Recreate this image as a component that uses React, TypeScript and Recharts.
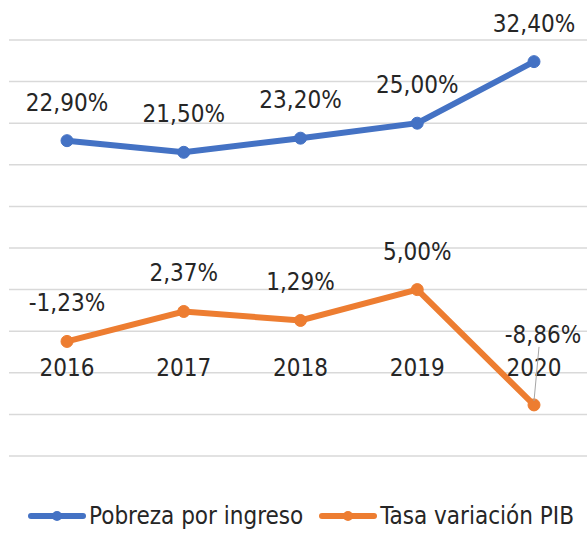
import {
  CartesianGrid,
  LabelList,
  Legend,
  Line,
  LineChart,
  XAxis,
  YAxis,
} from "recharts";

const years = ["2016", "2017", "2018", "2019", "2020"];
const pobreza = [22.9, 21.5, 23.2, 25.0, 32.4];
const pib = [-1.23, 2.37, 1.29, 5.0, -8.86];
const yTicks = [-15, -10, -5, 0, 5, 10, 15, 20, 25, 30, 35];

const BLUE = "#4472C4";
const ORANGE = "#ED7D31";
const TEXT = "#262626";
const FONT = "'DejaVu Sans Condensed', 'DejaVu Sans', sans-serif";

const rows = years.map((year, i) => ({
  year,
  pobreza: pobreza[i],
  pib: pib[i],
}));

const pct = (v: number) => v.toFixed(2).replace(".", ",") + "%";

function YearTick({ x, y, payload }: any) {
  return (
    <text
      x={x}
      y={y - 88}
      textAnchor="middle"
      dominantBaseline="central"
      fontFamily={FONT}
      fontStretch="condensed"
      fontSize={24}
      fill={TEXT}
    >
      {payload.value}
    </text>
  );
}

function PointLabel(props: any) {
  const { x, y, value, index, leader } = props;
  if (leader && index === leader) {
    return (
      <g>
        <line x1={x + 5} y1={y - 58} x2={x} y2={y - 4} stroke="#a6a6a6" strokeWidth={1} />
        <text
          x={x + 9}
          y={y - 70}
          textAnchor="middle"
          dominantBaseline="central"
          fontFamily={FONT}
          fontStretch="condensed"
          fontSize={24}
          fill={TEXT}
        >
          {pct(value)}
        </text>
      </g>
    );
  }
  return (
    <text
      x={x}
      y={y - 38}
      textAnchor="middle"
      dominantBaseline="central"
      fontFamily={FONT}
      fontStretch="condensed"
      fontSize={24}
      fill={TEXT}
    >
      {pct(value)}
    </text>
  );
}

function LegendBox() {
  const items = [
    { name: "Pobreza por ingreso", color: BLUE },
    { name: "Tasa variación PIB", color: ORANGE },
  ];
  return (
    <div
      style={{
        display: "flex",
        justifyContent: "center",
        gap: 16,
        fontFamily: FONT,
        fontStretch: "condensed",
        fontSize: 24,
        color: TEXT,
        paddingLeft: 10,
      }}
    >
      {items.map((it) => (
        <div key={it.name} style={{ display: "flex", alignItems: "center" }}>
          <svg width={58} height={14} style={{ marginRight: 3 }}>
            <line x1={3} y1={7} x2={55} y2={7} stroke={it.color} strokeWidth={6} strokeLinecap="round" />
            <circle cx={29} cy={7} r={5} fill={it.color} />
          </svg>
          <span>{it.name}</span>
        </div>
      ))}
    </div>
  );
}

export default function App() {
  return (
    <div
      style={{
        position: "absolute",
        left: 0,
        top: 0,
        width: 587,
        height: 533,
        overflow: "hidden",
        background: "#fff",
      }}
    >
      <LineChart
        width={592}
        height={533}
        data={rows}
        margin={{ top: 40, right: 0, bottom: 48, left: 9 }}
      >
        <CartesianGrid vertical={false} stroke="#d9d9d9" strokeWidth={1.5} />
        <XAxis
          dataKey="year"
          axisLine={false}
          tickLine={false}
          tickSize={0}
          tickMargin={0}
          tick={<YearTick />}
          height={1}
          padding={{ left: 58, right: 58 }}
        />
        <YAxis hide domain={[-15, 35]} ticks={yTicks} />
        <Legend
          content={<LegendBox />}
          verticalAlign="bottom"
          wrapperStyle={{ top: 502, left: 0, width: 592 }}
        />
        <Line
          dataKey="pobreza"
          name="Pobreza por ingreso"
          stroke={BLUE}
          strokeWidth={6}
          dot={{ r: 6, fill: BLUE, stroke: BLUE, strokeWidth: 1 }}
          isAnimationActive={false}
        >
          <LabelList dataKey="pobreza" content={<PointLabel />} />
        </Line>
        <Line
          dataKey="pib"
          name="Tasa variación PIB"
          stroke={ORANGE}
          strokeWidth={6}
          dot={{ r: 6, fill: ORANGE, stroke: ORANGE, strokeWidth: 1 }}
          isAnimationActive={false}
        >
          <LabelList dataKey="pib" content={<PointLabel leader={4} />} />
        </Line>
      </LineChart>
    </div>
  );
}
